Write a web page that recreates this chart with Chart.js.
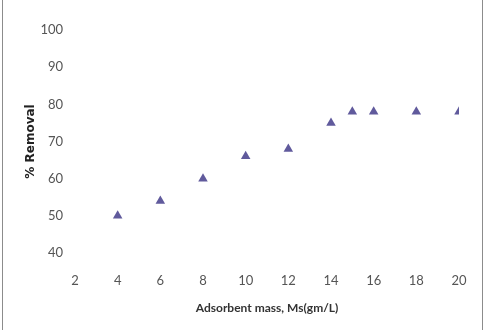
<!DOCTYPE html>
<html>
<head>
<meta charset="utf-8">
<script src="https://cdn.jsdelivr.net/npm/chart.js@4"></script>
<style>
    html, body { margin: 0; padding: 0; background: #fff; }
    #wrap { position: relative; width: 487px; height: 330px; }
    #wrap:before, #wrap:after {
        content: ''; position: absolute; top: 0; bottom: 0; width: 1px; background: #8c8c8c;
    }
    #wrap:before { left: 2px; }
    #wrap:after { left: 482px; }
</style>
</head>
<body>
<div id="wrap"><canvas id="c" width="487" height="330"></canvas></div>
<script>
// Masse d'adsorbant (gm/L) et % d'élimination
const mass = [4, 6, 8, 10, 12, 14, 15, 16, 18, 20]
const removal = [50, 54, 60, 66, 68, 75, 78, 78, 78, 78]

const xTicks = [2, 4, 6, 8, 10, 12, 14, 16, 18, 20]
const yTicks = [40, 50, 60, 70, 80, 90, 100]

const POINT_COLOR = '#605a9c'

new Chart(document.getElementById('c'), {
    type: 'scatter',
    data: {
        datasets: [{
            data: mass.map((m, i) => ({ x: m, y: removal[i] })),
            pointStyle: 'triangle',
            pointRadius: 5.5,
            pointHoverRadius: 5.5,
            backgroundColor: POINT_COLOR,
            borderColor: POINT_COLOR,
            borderWidth: 0
        }]
    },
    options: {
        responsive: false,
        animation: false,
        layout: { padding: { left: 20, right: 28, top: 30, bottom: 0 } },
        plugins: { legend: { display: false }, tooltip: { enabled: false } },
        scales: {
            x: {
                type: 'linear',
                min: 2, max: 20,
                afterBuildTicks: s => { s.ticks = xTicks.map(v => ({ value: v })) },
                afterFit: s => { s.height = 77 },
                grid: { display: false },
                border: { display: false },
                ticks: { color: '#555', padding: 12, font: { family: 'Lato', size: 13 } },
                title: {
                    display: true,
                    text: 'Adsorbent mass, Ms(gm/L)',
                    color: '#333',
                    padding: { top: 4, bottom: 15 },
                    font: { family: 'Lato', size: 12, weight: 'bold' }
                }
            },
            y: {
                min: 40, max: 100,
                afterBuildTicks: s => { s.ticks = yTicks.map(v => ({ value: v })) },
                afterFit: s => { s.width = 55 },
                grid: { display: false },
                border: { display: false },
                ticks: { color: '#555', padding: 4, font: { family: 'Lato', size: 13 } },
                title: {
                    display: true,
                    text: '% Removal',
                    color: '#222',
                    padding: { top: 4, bottom: 4 },
                    font: { family: 'DejaVu Sans', size: 12, weight: 'bold' }
                }
            }
        }
    }
})
</script>
</body>
</html>
